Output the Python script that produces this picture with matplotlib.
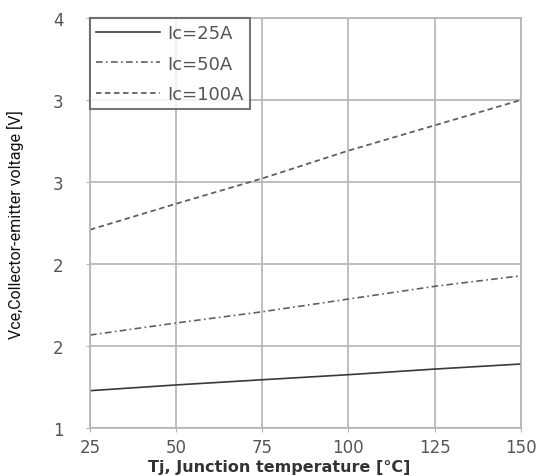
import matplotlib
matplotlib.use("Agg")
import matplotlib.pyplot as plt
import numpy as np
from matplotlib.ticker import FuncFormatter

# ------ data ------
tj = [25, 50, 75, 100, 125, 150]
vce_25a = [1.275, 1.317, 1.355, 1.392, 1.433, 1.470]
vce_50a = [1.682, 1.770, 1.852, 1.945, 2.038, 2.115]
vce_100a = [2.452, 2.642, 2.827, 3.030, 3.215, 3.400]
labels = ["Ic=25A", "Ic=50A", "Ic=100A"]

y_ticks = np.linspace(1, 4, 6)
x_ticks = [25, 50, 75, 100, 125, 150]

# ------ figure ------
plt.rcParams['font.family'] = ['DejaVu Sans']
fig = plt.figure(figsize=(5.43, 4.77), dpi=100)
ax = fig.add_axes([90 / 543, 1 - 429.3 / 477, (520.7 - 90) / 543, (429.3 - 19) / 477])

grid_c = '#b4b4b4'
ax.plot(tj, vce_25a, color='#3a3a3a', lw=1.2, ls='-', label=labels[0])
ax.plot(tj, vce_50a, color='#606060', lw=1.2, ls=(0, (4, 2, 1, 2)), label=labels[1])
ax.plot(tj, vce_100a, color='#606060', lw=1.3, ls=(0, (3, 2)), label=labels[2])

ax.set_xlim(25, 150)
ax.set_ylim(1, 4)
ax.set_xticks(x_ticks)
ax.set_yticks(y_ticks)
# reference rounds the 0.6-step ticks to whole volts
ax.yaxis.set_major_formatter(FuncFormatter(lambda v, p: "%d" % int(v + 0.5)))
ax.grid(True, color=grid_c, lw=1.2)
ax.set_axisbelow(True)
for s in ax.spines.values():
    s.set_color(grid_c)
    s.set_linewidth(1.2)

ax.tick_params(axis='x', length=3, color=grid_c, labelsize=12, labelcolor='#555555', pad=4)
ax.tick_params(axis='y', length=3, color=grid_c, labelsize=12, labelcolor='#555555', pad=16)

ax.set_xlabel("Tj, Junction temperature [°C]", fontsize=11.5, fontweight='bold',
              color='#333333')
ax.xaxis.set_label_coords(0.439, -0.0935)
ax.xaxis.label.set_va('center')
ax.set_ylabel("Vce,Collector-emitter voltage [V]", fontsize=11.5, color='#111111',
              family=['Roboto', 'DejaVu Sans'])
ax.yaxis.set_label_coords(-0.172, 0.5)
ax.yaxis.label.set_va('center')

leg = ax.legend(loc='upper left', bbox_to_anchor=(0, 1), frameon=True, fancybox=False,
                fontsize=13, handlelength=3.55, handletextpad=0.39, borderpad=0.35,
                labelspacing=0.68, borderaxespad=0)
leg.get_frame().set_edgecolor('#555555')
leg.get_frame().set_linewidth(1.5)
for t in leg.get_texts():
    t.set_color('#555555')

fig.savefig("out.png", dpi=100)
